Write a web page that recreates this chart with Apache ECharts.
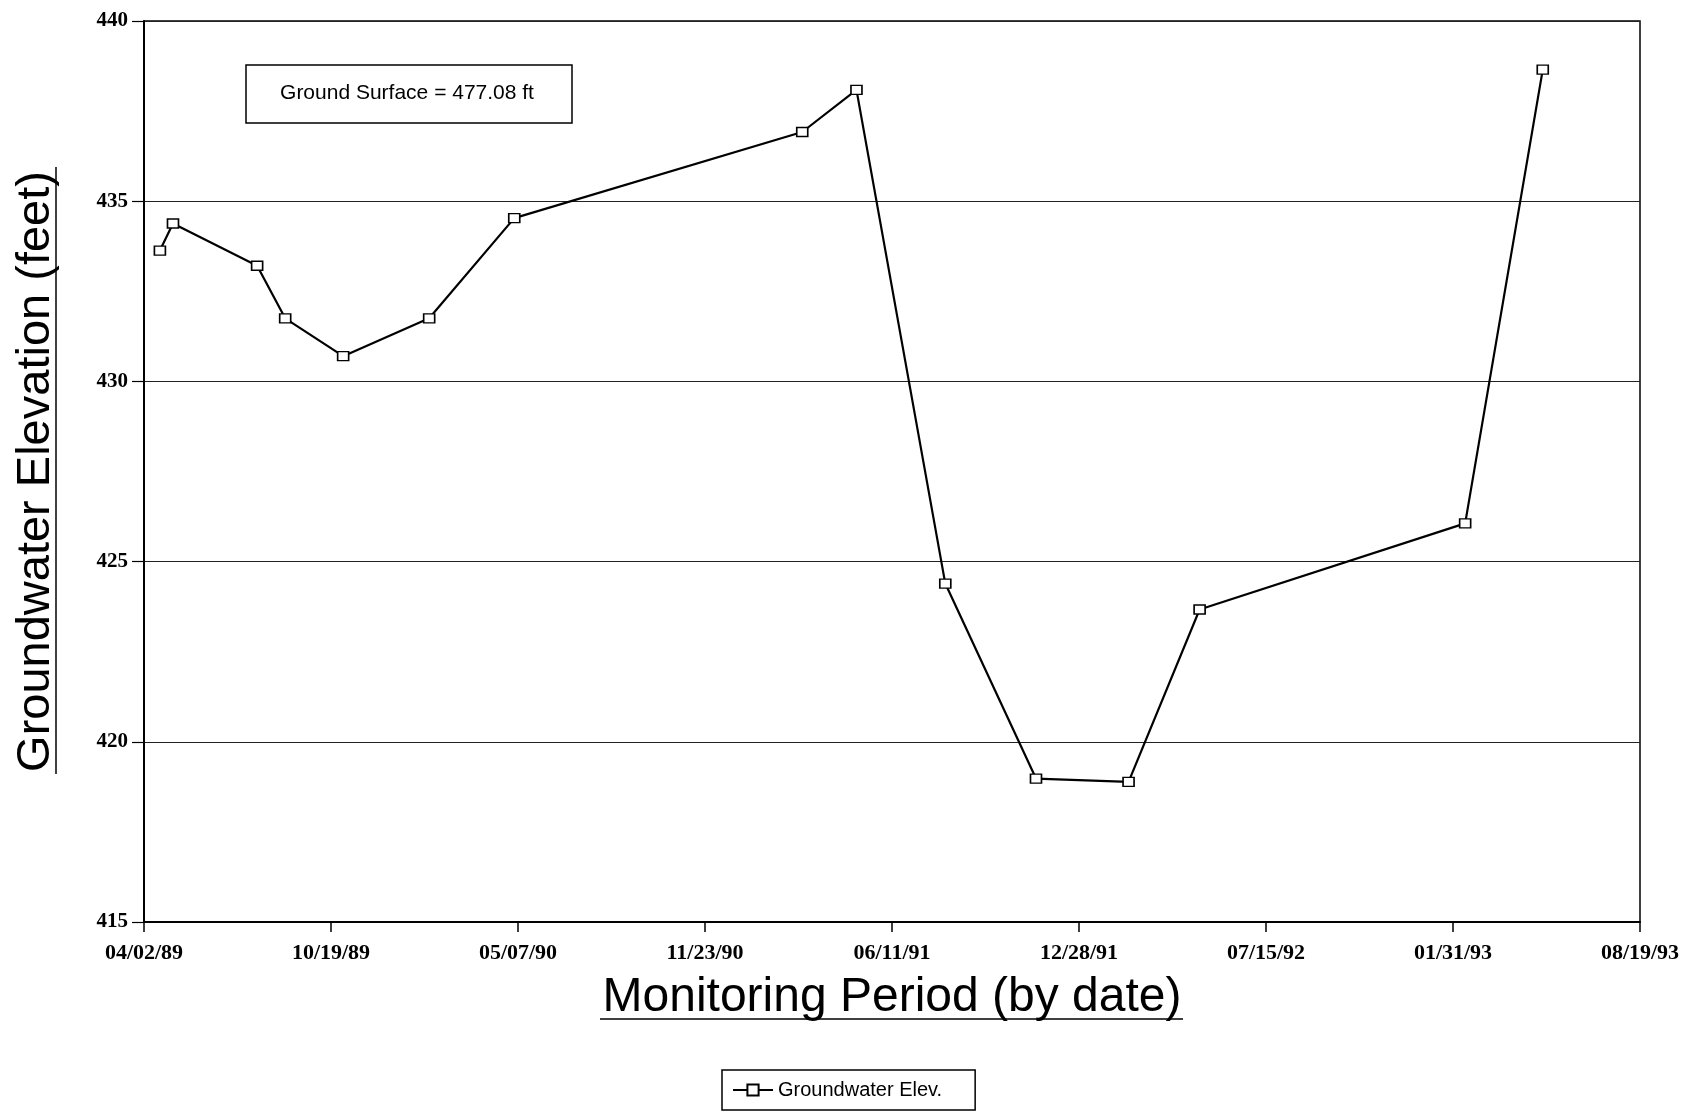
<!DOCTYPE html>
<html><head><meta charset="utf-8">
<script src="https://cdn.jsdelivr.net/npm/echarts@6/dist/echarts.min.js"></script>
<style>html,body{margin:0;padding:0;background:#fff}#c{width:1691px;height:1115px}</style>
</head><body><div id="c"></div>
<script>
const startDate = '1989-04-02';
const endDate = '1993-08-19';
const tickStepDays = 200;
const sampleDates = ['1989-04-19','1989-05-03','1989-08-01','1989-08-31','1989-11-01','1990-02-01','1990-05-03',
  '1991-03-07','1991-05-04','1991-08-07','1991-11-12','1992-02-19','1992-05-05','1993-02-13','1993-05-07'];
const elevations = [433.63,434.38,433.21,431.75,430.70,431.75,434.53,436.92,438.09,424.39,418.98,418.89,423.67,426.06,438.65];
const yMin = 415, yMax = 440, yStep = 5;
const seriesName = 'Groundwater Elev.';
const noteText = 'Ground Surface = 477.08 ft';
const xTitle = 'Monitoring Period (by date)';
const yTitle = 'Groundwater Elevation (feet)';

const DAY = 86400000;
const toMs = s => { const [y,m,d] = s.split('-').map(Number); return Date.UTC(y, m-1, d); };
const t0 = toMs(startDate);
const dayOffset = s => Math.round((toMs(s) - t0) / DAY);
const spanDays = dayOffset(endDate);
const pad = n => String(n).padStart(2,'0');
const fmt = off => { const d = new Date(t0 + off*DAY); return pad(d.getUTCMonth()+1)+'/'+pad(d.getUTCDate())+'/'+pad(d.getUTCFullYear()%100); };
const data = sampleDates.map((s,i) => [dayOffset(s), elevations[i]]);

const chart = echarts.init(document.getElementById('c'));
const serif = "'Liberation Serif', 'DejaVu Serif', serif";
const sans = "'Liberation Sans', Arial, sans-serif";
chart.setOption({
  backgroundColor: '#fff',
  animation: false,
  grid: { left: 144, right: 51, top: 21, bottom: 193, show: true, borderColor: '#000', borderWidth: 1.5, containLabel: false },
  xAxis: {
    type: 'value', min: 0, max: spanDays, interval: tickStepDays,
    name: xTitle, nameLocation: 'middle', nameGap: 52,
    nameTextStyle: { fontFamily: sans, fontSize: 48, color: '#000' },
    axisLine: { lineStyle: { color: '#000', width: 2 } },
    axisTick: { show: true, inside: false, length: 10, lineStyle: { color: '#000', width: 1.5 } },
    axisLabel: { formatter: v => fmt(v), fontFamily: serif, fontWeight: 'bold', fontSize: 22, color: '#000', margin: 20 },
    splitLine: { show: false }
  },
  yAxis: {
    type: 'value', min: yMin, max: yMax, interval: yStep,
    name: yTitle, nameLocation: 'middle', nameGap: 84, nameRotate: 90,
    nameTextStyle: { fontFamily: sans, fontSize: 47, color: '#000' },
    axisLine: { show: true, lineStyle: { color: '#000', width: 2 } },
    axisTick: { show: true, length: 12, lineStyle: { color: '#000', width: 1.2 } },
    axisLabel: { fontFamily: serif, fontWeight: 'bold', fontSize: 21, color: '#000', margin: 16 },
    splitLine: { show: true, lineStyle: { color: '#222', width: 1.2 } }
  },
  legend: {
    data: [seriesName], left: 722, top: 1070,
    borderColor: '#000', borderWidth: 1.5, padding: [10, 33, 10, 10],
    itemWidth: 40, itemHeight: 14, itemGap: 8,
    textStyle: { fontFamily: sans, fontSize: 20, color: '#000' }
  },
  graphic: [
    { type: 'rect', shape: { x: 246, y: 65, width: 326, height: 58 }, style: { fill: '#fff', stroke: '#000', lineWidth: 1.5 }, z: 10 },
    { type: 'text', x: 407, y: 93, style: { text: noteText, fontFamily: sans, fontSize: 21, fill: '#000', align: 'center', verticalAlign: 'middle' }, z: 11 },
    { type: 'line', shape: { x1: 56, y1: 167, x2: 56, y2: 774 }, style: { stroke: '#000', lineWidth: 1.5 } },
    { type: 'line', shape: { x1: 600, y1: 1019, x2: 1183, y2: 1019 }, style: { stroke: '#000', lineWidth: 1.5 } }
  ],
  series: [{
    name: seriesName, type: 'line', data: data,
    symbol: 'rect', symbolSize: [11, 9], showAllSymbol: true,
    lineStyle: { color: '#000', width: 2.2 },
    itemStyle: { color: '#fff', borderColor: '#000', borderWidth: 1.5 },
    z: 5
  }]
});
</script></body></html>
